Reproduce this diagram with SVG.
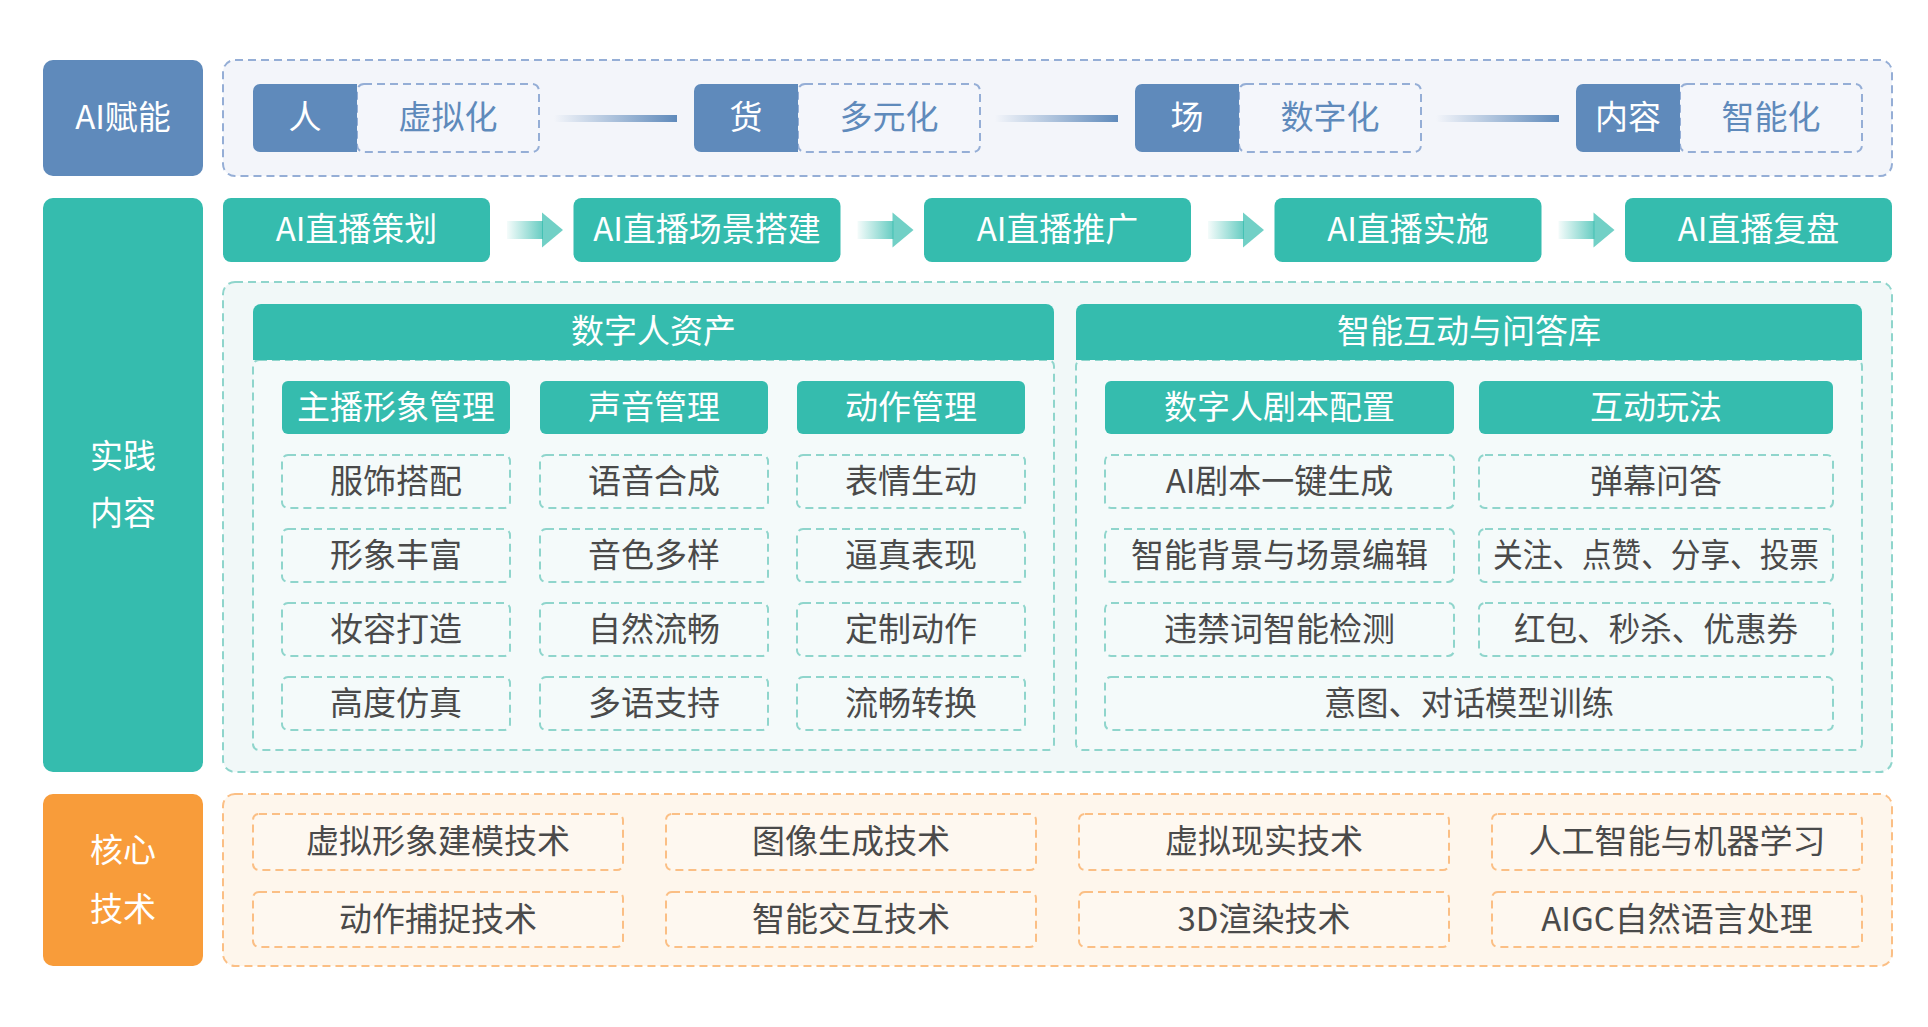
<svg xmlns="http://www.w3.org/2000/svg" width="1928" height="1027" viewBox="0 0 1928 1027">
<defs>
<style>
text{font-family:"Noto Sans CJK SC","Noto Sans",sans-serif;font-size:33px;text-anchor:middle;dominant-baseline:central;transform:translateY(-3px)}
.w{fill:#ffffff}
.b{fill:#5f8abb}
.g{fill:#4a4a4a}
.blue{fill:#5f8abb}
.teal{fill:#35bcae}
.orange{fill:#f89c3a}
.dblue{fill:#f4f6fb;stroke:#95aed6;stroke-width:2;stroke-dasharray:8 5}
.dteal{fill:#f4fafa;stroke:#8fd5cc;stroke-width:2;stroke-dasharray:8 5}
.dorange{fill:#fef8f0;stroke:#fbbf85;stroke-width:2;stroke-dasharray:8 5}
</style>
<linearGradient id="lineG" x1="0" y1="0" x2="1" y2="0">
<stop offset="0" stop-color="#5f8abb" stop-opacity="0"/>
<stop offset="1" stop-color="#5f8abb"/>
</linearGradient>
<linearGradient id="arrG" x1="0" y1="0" x2="1" y2="0">
<stop offset="0" stop-color="#35bcae" stop-opacity="0.05"/>
<stop offset="1" stop-color="#35bcae" stop-opacity="0.75"/>
</linearGradient>
<g id="arrow">
<rect x="0" y="-9" width="36" height="18" fill="url(#arrG)"/>
<polygon points="35,-17.5 56,0 35,17.5" fill="#35bcae" fill-opacity="0.7"/>
</g>
</defs>
<rect width="1928" height="1027" fill="#ffffff"/>

<!-- Row 1 -->
<g id="label-ai">
<rect class="blue" x="43" y="60" width="160" height="116" rx="10"/>
<text class="w" x="123" y="118">AI赋能</text>
</g>
<g id="container-ai">
<rect x="223" y="60" width="1669" height="116" rx="12" fill="#f3f5fa" stroke="#95aed6" stroke-width="2" stroke-dasharray="8 5"/>
</g>
<g id="pair-ren">
<rect class="dblue" x="357" y="84" width="182" height="68" rx="7"/>
<path class="blue" d="M357 84 V152 H260 a7 7 0 0 1 -7 -7 V91 a7 7 0 0 1 7 -7 Z"/>
<text class="w" x="305" y="118">人</text>
<text class="b" x="448" y="118">虚拟化</text>
</g>
<g id="pair-huo">
<rect class="dblue" x="798" y="84" width="182" height="68" rx="7"/>
<path class="blue" d="M798 84 V152 H701 a7 7 0 0 1 -7 -7 V91 a7 7 0 0 1 7 -7 Z"/>
<text class="w" x="746" y="118">货</text>
<text class="b" x="889" y="118">多元化</text>
</g>
<g id="pair-chang">
<rect class="dblue" x="1239" y="84" width="182" height="68" rx="7"/>
<path class="blue" d="M1239 84 V152 H1142 a7 7 0 0 1 -7 -7 V91 a7 7 0 0 1 7 -7 Z"/>
<text class="w" x="1187" y="118">场</text>
<text class="b" x="1330" y="118">数字化</text>
</g>
<g id="pair-neirong">
<rect class="dblue" x="1680" y="84" width="182" height="68" rx="7"/>
<path class="blue" d="M1680 84 V152 H1583 a7 7 0 0 1 -7 -7 V91 a7 7 0 0 1 7 -7 Z"/>
<text class="w" x="1628" y="118">内容</text>
<text class="b" x="1771" y="118">智能化</text>
</g>

<!-- Row 2 -->
<g id="label-practice">
<rect class="teal" x="43" y="198" width="160" height="574" rx="10"/>
<text class="w" x="123" y="457">实践</text>
<text class="w" x="123" y="514">内容</text>
</g>
<g id="step-1"><rect class="teal" x="223" y="198" width="267" height="64" rx="8"/><text class="w" x="356.5" y="230">AI直播策划</text></g>
<g id="step-2"><rect class="teal" x="573.5" y="198" width="267" height="64" rx="8"/><text class="w" x="707" y="230">AI直播场景搭建</text></g>
<g id="step-3"><rect class="teal" x="924" y="198" width="267" height="64" rx="8"/><text class="w" x="1057.5" y="230">AI直播推广</text></g>
<g id="step-4"><rect class="teal" x="1274.5" y="198" width="267" height="64" rx="8"/><text class="w" x="1408" y="230">AI直播实施</text></g>
<g id="step-5"><rect class="teal" x="1625" y="198" width="267" height="64" rx="8"/><text class="w" x="1758.5" y="230">AI直播复盘</text></g>

<g id="container-practice">
<rect x="223" y="282" width="1669" height="490" rx="12" fill="#f1f8f8" stroke="#8fd5cc" stroke-width="2" stroke-dasharray="8 5"/>
</g>

<g id="panel-assets">
<rect class="dteal" x="253" y="360" width="801" height="390" rx="6"/>
<path class="teal" d="M253 360 V312 a8 8 0 0 1 8 -8 H1046 a8 8 0 0 1 8 8 V360 Z"/>
<text class="w" x="653.5" y="332">数字人资产</text>
</g>
<g id="panel-interact">
<rect class="dteal" x="1076" y="360" width="786" height="390" rx="6"/>
<path class="teal" d="M1076 360 V312 a8 8 0 0 1 8 -8 H1854 a8 8 0 0 1 8 8 V360 Z"/>
<text class="w" x="1469" y="332">智能互动与问答库</text>
</g>

<g id="col-image">
<rect class="teal" x="282" y="381" width="228" height="53" rx="6"/><text class="w" x="396" y="408">主播形象管理</text>
<rect class="dteal" x="282" y="455" width="228" height="53" rx="6"/><text class="g" x="396" y="482">服饰搭配</text>
<rect class="dteal" x="282" y="529" width="228" height="53" rx="6"/><text class="g" x="396" y="556">形象丰富</text>
<rect class="dteal" x="282" y="603" width="228" height="53" rx="6"/><text class="g" x="396" y="630">妆容打造</text>
<rect class="dteal" x="282" y="677" width="228" height="53" rx="6"/><text class="g" x="396" y="704">高度仿真</text>
</g>
<g id="col-voice">
<rect class="teal" x="540" y="381" width="228" height="53" rx="6"/><text class="w" x="654" y="408">声音管理</text>
<rect class="dteal" x="540" y="455" width="228" height="53" rx="6"/><text class="g" x="654" y="482">语音合成</text>
<rect class="dteal" x="540" y="529" width="228" height="53" rx="6"/><text class="g" x="654" y="556">音色多样</text>
<rect class="dteal" x="540" y="603" width="228" height="53" rx="6"/><text class="g" x="654" y="630">自然流畅</text>
<rect class="dteal" x="540" y="677" width="228" height="53" rx="6"/><text class="g" x="654" y="704">多语支持</text>
</g>
<g id="col-motion">
<rect class="teal" x="797" y="381" width="228" height="53" rx="6"/><text class="w" x="911" y="408">动作管理</text>
<rect class="dteal" x="797" y="455" width="228" height="53" rx="6"/><text class="g" x="911" y="482">表情生动</text>
<rect class="dteal" x="797" y="529" width="228" height="53" rx="6"/><text class="g" x="911" y="556">逼真表现</text>
<rect class="dteal" x="797" y="603" width="228" height="53" rx="6"/><text class="g" x="911" y="630">定制动作</text>
<rect class="dteal" x="797" y="677" width="228" height="53" rx="6"/><text class="g" x="911" y="704">流畅转换</text>
</g>
<g id="col-script">
<rect class="teal" x="1105" y="381" width="349" height="53" rx="6"/><text class="w" x="1279.5" y="408">数字人剧本配置</text>
<rect class="dteal" x="1105" y="455" width="349" height="53" rx="6"/><text class="g" x="1279.5" y="482">AI剧本一键生成</text>
<rect class="dteal" x="1105" y="529" width="349" height="53" rx="6"/><text class="g" x="1279.5" y="556">智能背景与场景编辑</text>
<rect class="dteal" x="1105" y="603" width="349" height="53" rx="6"/><text class="g" x="1279.5" y="630">违禁词智能检测</text>
</g>
<g id="col-play">
<rect class="teal" x="1479" y="381" width="354" height="53" rx="6"/><text class="w" x="1656" y="408">互动玩法</text>
<rect class="dteal" x="1479" y="455" width="354" height="53" rx="6"/><text class="g" x="1656" y="482">弹幕问答</text>
<rect class="dteal" x="1479" y="529" width="354" height="53" rx="6"/><text class="g" x="1656" y="556" textLength="326" lengthAdjust="spacingAndGlyphs">关注、点赞、分享、投票</text>
<rect class="dteal" x="1479" y="603" width="354" height="53" rx="6"/><text class="g" x="1656" y="630" textLength="284" lengthAdjust="spacingAndGlyphs">红包、秒杀、优惠券</text>
</g>
<g id="item-intent">
<rect class="dteal" x="1105" y="677" width="728" height="53" rx="6"/><text class="g" x="1469" y="704" textLength="290" lengthAdjust="spacingAndGlyphs">意图、对话模型训练</text>
</g>

<!-- Row 3 -->
<g id="label-core">
<rect class="orange" x="43" y="794" width="160" height="172" rx="10"/>
<text class="w" x="123" y="851">核心</text>
<text class="w" x="123" y="910">技术</text>
</g>
<g id="container-core">
<rect x="223" y="794" width="1669" height="172" rx="12" fill="#fef6ec" stroke="#fbbf85" stroke-width="2" stroke-dasharray="8 5"/>
</g>
<g id="tech-1"><rect class="dorange" x="253" y="814" width="370" height="56" rx="6"/><text class="g" x="438" y="842">虚拟形象建模技术</text></g>
<g id="tech-2"><rect class="dorange" x="666" y="814" width="370" height="56" rx="6"/><text class="g" x="851" y="842">图像生成技术</text></g>
<g id="tech-3"><rect class="dorange" x="1079" y="814" width="370" height="56" rx="6"/><text class="g" x="1264" y="842">虚拟现实技术</text></g>
<g id="tech-4"><rect class="dorange" x="1492" y="814" width="370" height="56" rx="6"/><text class="g" x="1677" y="842">人工智能与机器学习</text></g>
<g id="tech-5"><rect class="dorange" x="253" y="892" width="370" height="55" rx="6"/><text class="g" x="438" y="919.5">动作捕捉技术</text></g>
<g id="tech-6"><rect class="dorange" x="666" y="892" width="370" height="55" rx="6"/><text class="g" x="851" y="919.5">智能交互技术</text></g>
<g id="tech-7"><rect class="dorange" x="1079" y="892" width="370" height="55" rx="6"/><text class="g" x="1264" y="919.5">3D渲染技术</text></g>
<g id="tech-8"><rect class="dorange" x="1492" y="892" width="370" height="55" rx="6"/><text class="g" x="1677" y="919.5">AIGC自然语言处理</text></g>

<!-- Connectors -->
<g id="connectors">
<rect x="554" y="115" width="123" height="7" fill="url(#lineG)"/>
<rect x="995" y="115" width="123" height="7" fill="url(#lineG)"/>
<rect x="1436" y="115" width="123" height="7" fill="url(#lineG)"/>
<use href="#arrow" x="507" y="230"/>
<use href="#arrow" x="857.5" y="230"/>
<use href="#arrow" x="1208" y="230"/>
<use href="#arrow" x="1558.5" y="230"/>
</g>
</svg>
